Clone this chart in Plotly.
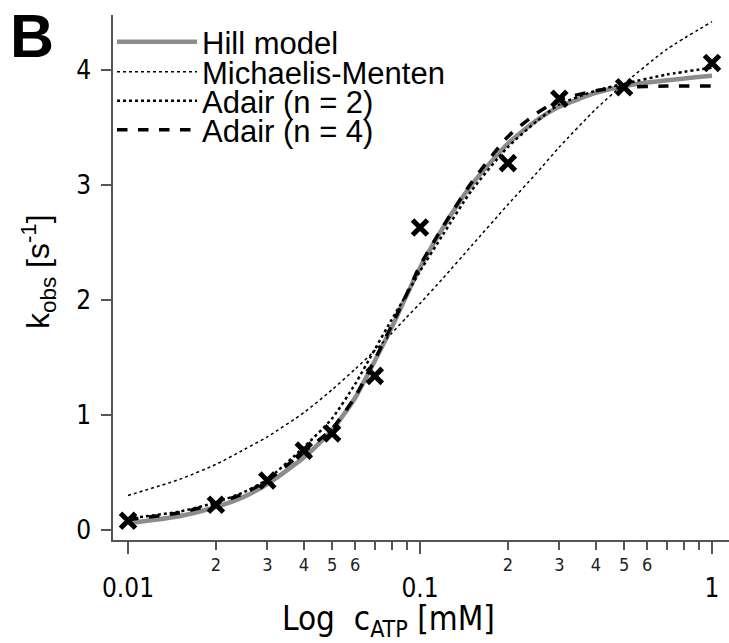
import plotly.graph_objects as go

# ---- data ----
conc_obs = [0.01, 0.02, 0.03, 0.04, 0.05, 0.07, 0.1, 0.2, 0.3, 0.5, 1.0]
kobs_obs = [0.08, 0.22, 0.43, 0.69, 0.84, 1.34, 2.63, 3.19, 3.75, 3.85, 4.06]

conc_fit = [0.01, 0.015, 0.02, 0.025, 0.03, 0.04, 0.05, 0.06, 0.07, 0.08, 0.09,
            0.1, 0.12, 0.15, 0.2, 0.25, 0.3, 0.4, 0.5, 0.7, 1.0]
hill = [0.06, 0.12, 0.20, 0.29, 0.40, 0.63, 0.87, 1.15, 1.47, 1.76, 2.04,
        2.28, 2.63, 3.00, 3.36, 3.56, 3.68, 3.80, 3.86, 3.91, 3.95]
michaelis = [0.30, 0.44, 0.57, 0.70, 0.81, 1.02, 1.22, 1.40, 1.56, 1.71, 1.85,
             1.97, 2.19, 2.47, 2.83, 3.10, 3.33, 3.66, 3.88, 4.18, 4.42]
adair2 = [0.10, 0.16, 0.24, 0.33, 0.44, 0.72, 0.97, 1.27, 1.57, 1.83, 2.05,
          2.25, 2.57, 2.95, 3.33, 3.55, 3.70, 3.82, 3.88, 3.96, 4.02]
adair4 = [0.09, 0.15, 0.23, 0.32, 0.43, 0.68, 0.88, 1.16, 1.48, 1.78, 2.05,
          2.30, 2.64, 3.02, 3.42, 3.62, 3.74, 3.82, 3.85, 3.86, 3.86]

minor_vals = [0.02, 0.03, 0.04, 0.05, 0.06, 0.07, 0.08, 0.09,
              0.2, 0.3, 0.4, 0.5, 0.6, 0.7, 0.8, 0.9]
minor_text = ["2", "3", "4", "5", "6", "", "", "",
              "2", "3", "4", "5", "6", "", "", ""]
major_vals = [0.01, 0.1, 1]
major_text = ["0.01", "0.1", "1"]
y_ticks = [0, 1, 2, 3, 4]

x_title = "Log  c<sub>ATP</sub> [mM]"
y_title = "k<sub>obs</sub> [s<sup>-1</sup>]"
panel_label = "<b>B</b>"

W, H = 729, 643
ML, MR, MT, MB = 113, 0, 15, 103
PW, PH = W - ML - MR, H - MT - MB
COND = "DejaVu Sans Condensed, DejaVu Sans, sans-serif"
SANS = "Liberation Sans, Arial, sans-serif"
AX = "#555555"


def cfont(size, color="black"):
    return dict(family=COND, size=size, color=color)


def px_to_paper(px, py):
    return (px - ML) / PW, (H - MB - py) / PH


fig = go.Figure()

series = [
    ("Hill model", hill, dict(color="#8c8c8c", width=4.5, dash="solid"), "legend"),
    ("Michaelis-Menten", michaelis, dict(color="black", width=1.5, dash="dot"), "legend2"),
    ("Adair (n = 2)", adair2, dict(color="black", width=2.5, dash="dot"), "legend3"),
    ("Adair (n = 4)", adair4, dict(color="black", width=3.5, dash="dash"), "legend4"),
]
for name, ys, ln, lg in series:
    fig.add_trace(go.Scatter(x=conc_fit, y=ys, mode="lines", name=name,
                             line=dict(shape="spline", smoothing=0.6, **ln),
                             legend=lg, hoverinfo="skip"))

fig.add_trace(go.Scatter(x=conc_obs, y=kobs_obs, mode="markers", showlegend=False,
                         marker=dict(symbol="x-thin", size=15, color="black",
                                     line=dict(color="black", width=5))))

# invisible trace for the second x axis (major ticks)
fig.add_trace(go.Scatter(x=[0.01, 1], y=[0, 0], xaxis="x2", mode="markers",
                         marker=dict(opacity=0), showlegend=False, hoverinfo="skip"))

# log-axis range: 0.01 sits at px 128, one decade = 292 px
x0 = -2 - (ML - 128) / -292
x0 = -2 - (128 - ML) / 292
x1 = -2 + (W - MR - 128) / 292

legend_rows = [42, 72, 101, 130]
legend_keys = ["legend", "legend2", "legend3", "legend4"]
for key, row in zip(legend_keys, legend_rows):
    fig.update_layout(**{key: dict(
        x=112 / W, y=1 - row / H, xref="container", yref="container",
        xanchor="left", yanchor="middle", bgcolor="rgba(0,0,0,0)",
        borderwidth=0, font=dict(family=SANS, size=31, color="black"),
        itemwidth=80, tracegroupgap=0)})

bx, by = px_to_paper(8, 0)
tx, ty = px_to_paper(388, 620)
yx, yy = px_to_paper(38, 272)

fig.update_layout(
    width=W, height=H,
    margin=dict(l=ML, r=MR, t=MT, b=MB, autoexpand=False),
    paper_bgcolor="white", plot_bgcolor="white",
    xaxis=dict(type="log", range=[x0, x1], tickvals=minor_vals, ticktext=minor_text,
               ticks="outside", ticklen=8, tickwidth=1.5, tickcolor=AX, tickangle=0,
               showline=True, linecolor=AX, linewidth=1.5, showgrid=False, zeroline=False,
               tickfont=cfont(18, "#222222")),
    xaxis2=dict(type="log", range=[x0, x1], overlaying="x", anchor="y", side="bottom",
                tickvals=major_vals, ticktext=major_text, tickangle=0,
                ticks="outside", ticklen=13, tickwidth=1.5, tickcolor=AX,
                showline=False, showgrid=False, zeroline=False,
                ticklabelstandoff=12, tickfont=cfont(26)),
    yaxis=dict(range=[-0.087, 4.478], tickvals=y_ticks, ticks="outside", ticklen=10,
               tickwidth=1.5, tickcolor=AX, showline=True, linecolor=AX, linewidth=1.5,
               showgrid=False, zeroline=False, ticklabelstandoff=5,
               tickfont=cfont(26)),
    annotations=[
        dict(text=panel_label, x=bx, y=by, xref="paper", yref="paper",
             xanchor="left", yanchor="top", showarrow=False,
             font=dict(family=SANS, size=61, color="black")),
        dict(text=x_title, x=tx, y=ty, xref="paper", yref="paper",
             xanchor="center", yanchor="middle", showarrow=False,
             font=cfont(33)),
        dict(text=y_title, x=yx, y=yy, xref="paper", yref="paper", textangle=-90,
             xanchor="center", yanchor="middle", showarrow=False,
             font=dict(family=SANS, size=32, color="black")),
    ],
)

fig.write_html("out.html")
